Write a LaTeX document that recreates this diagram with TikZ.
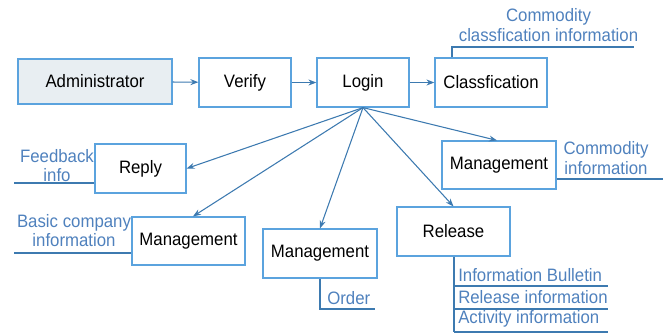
\documentclass[tikz,border=0pt]{standalone}
\usepackage{fontspec}
\usepackage{graphicx}
\setmainfont{Liberation Sans}
\usetikzlibrary{arrows.meta,calc}
\definecolor{boxline}{HTML}{5BA3DE}
\definecolor{conn}{HTML}{3D7AB0}
\definecolor{lbl}{HTML}{4F81BD}
\definecolor{adminfill}{HTML}{E8EEF2}
\newcommand{\vlow}[1]{\scalebox{1}[1.07]{#1}}
\tikzset{
  box/.style={draw=boxline,line width=0.9pt,rectangle,inner sep=0pt,font=\fontsize{12.6pt}{14pt}\selectfont,text=black},
  conn/.style={draw=conn,line width=0.8pt,-{Stealth[length=6pt,width=4.5pt]}},
  lline/.style={draw=conn,line width=0.8pt},
  lowlbl/.style={inner sep=0pt,text=lbl,align=center,font=\fontsize{12.6pt}{14.5pt}\selectfont},
}
\begin{document}
\begin{tikzpicture}[x=0.75pt,y=-0.75pt]
\useasboundingbox (0,0) rectangle (663,333);
% boxes
\node[box,fill=adminfill,minimum width=154*0.75pt,minimum height=45*0.75pt] (admin) at (95,81.5) {\vlow{Administrator}};
\node[box,minimum width=92*0.75pt,minimum height=49*0.75pt] (verify) at (245,82.5) {\vlow{Verify}};
\node[box,minimum width=92*0.75pt,minimum height=49*0.75pt] (login) at (363,82.5) {\vlow{Login}};
\node[box,minimum width=112*0.75pt,minimum height=49*0.75pt] (cls) at (491,82.5) {\vlow{Classfication}};
\node[box,minimum width=91*0.75pt,minimum height=49*0.75pt] (reply) at (140.5,168.5) {\vlow{Reply}};
\node[box,minimum width=113*0.75pt,minimum height=48*0.75pt] (m1) at (188.5,241) {\vlow{Management}};
\node[box,minimum width=114*0.75pt,minimum height=49*0.75pt] (m2) at (320,253.5) {\vlow{Management}};
\node[box,minimum width=114*0.75pt,minimum height=48*0.75pt] (m3) at (499,165) {\vlow{Management}};
\node[box,minimum width=113*0.75pt,minimum height=49*0.75pt] (rel) at (453.5,231.5) {\vlow{Release}};
% main arrows
\draw[conn] (admin) -- (verify);
\draw[conn] (verify) -- (login);
\draw[conn] (login) -- (cls);
\draw[conn] (login.south) -- (reply.east);
\draw[conn] (login.south) -- ([xshift=4.5*0.75pt]m1.north);
\draw[conn] (login.south) -- (m2.north);
\draw[conn] (login.south) -- ([xshift=-2*0.75pt]m3.north);
\draw[conn] (login.south) -- (rel.north);
% classification label
\coordinate (clsA) at (452,47);
\coordinate (clsB) at (634,47);
\draw[lline] (clsA |- cls.north) -- (clsA) -- (clsB);
\node[lowlbl,font=\fontsize{12.6pt}{15pt}\selectfont] (clsT) at (548.5,25) {\vlow{Commodity}\\\vlow{classfication information}};
% feedback info
\coordinate (fbA) at (14,183);
\draw[lline] (fbA) -- (fbA -| reply.west);
\node[lowlbl] (fbT) at (57,165.5) {\vlow{Feedback}\\\vlow{info}};
% basic company information
\coordinate (bcA) at (14,253);
\draw[lline] (bcA) -- (bcA -| m1.west);
\node[lowlbl] (bcT) at (74,230.5) {\vlow{Basic company}\\\vlow{information}};
% order
\coordinate (orA) at (320,309);
\coordinate (orB) at (375,309);
\draw[lline] (m2.south) -- (orA) -- (orB);
\node[lowlbl,anchor=west] (orT) at (327,298) {\vlow{Order}};
% commodity information
\coordinate (ciA) at (663,179);
\draw[lline] (ciA -| m3.east) -- (ciA);
\node[lowlbl] (ciT) at (606,158) {\vlow{Commodity}\\\vlow{information}};
% release items
\coordinate (rA) at (454,332);
\coordinate (r1) at (608,286);
\coordinate (r2) at (608,309);
\coordinate (r3) at (608,332);
\draw[lline] (rA |- rel.south) -- (rA);
\draw[lline] (r1 -| rA) -- (r1);
\draw[lline] (r2 -| rA) -- (r2);
\draw[lline] (r3 -| rA) -- (r3);
\node[lowlbl,anchor=west] (rt1) at (458,275) {\vlow{Information Bulletin}};
\node[lowlbl,anchor=west] (rt2) at (458,297) {\vlow{Release information}};
\node[lowlbl,anchor=west] (rt3) at (458,319) {\vlow{Activity information}};
\end{tikzpicture}
\end{document}
